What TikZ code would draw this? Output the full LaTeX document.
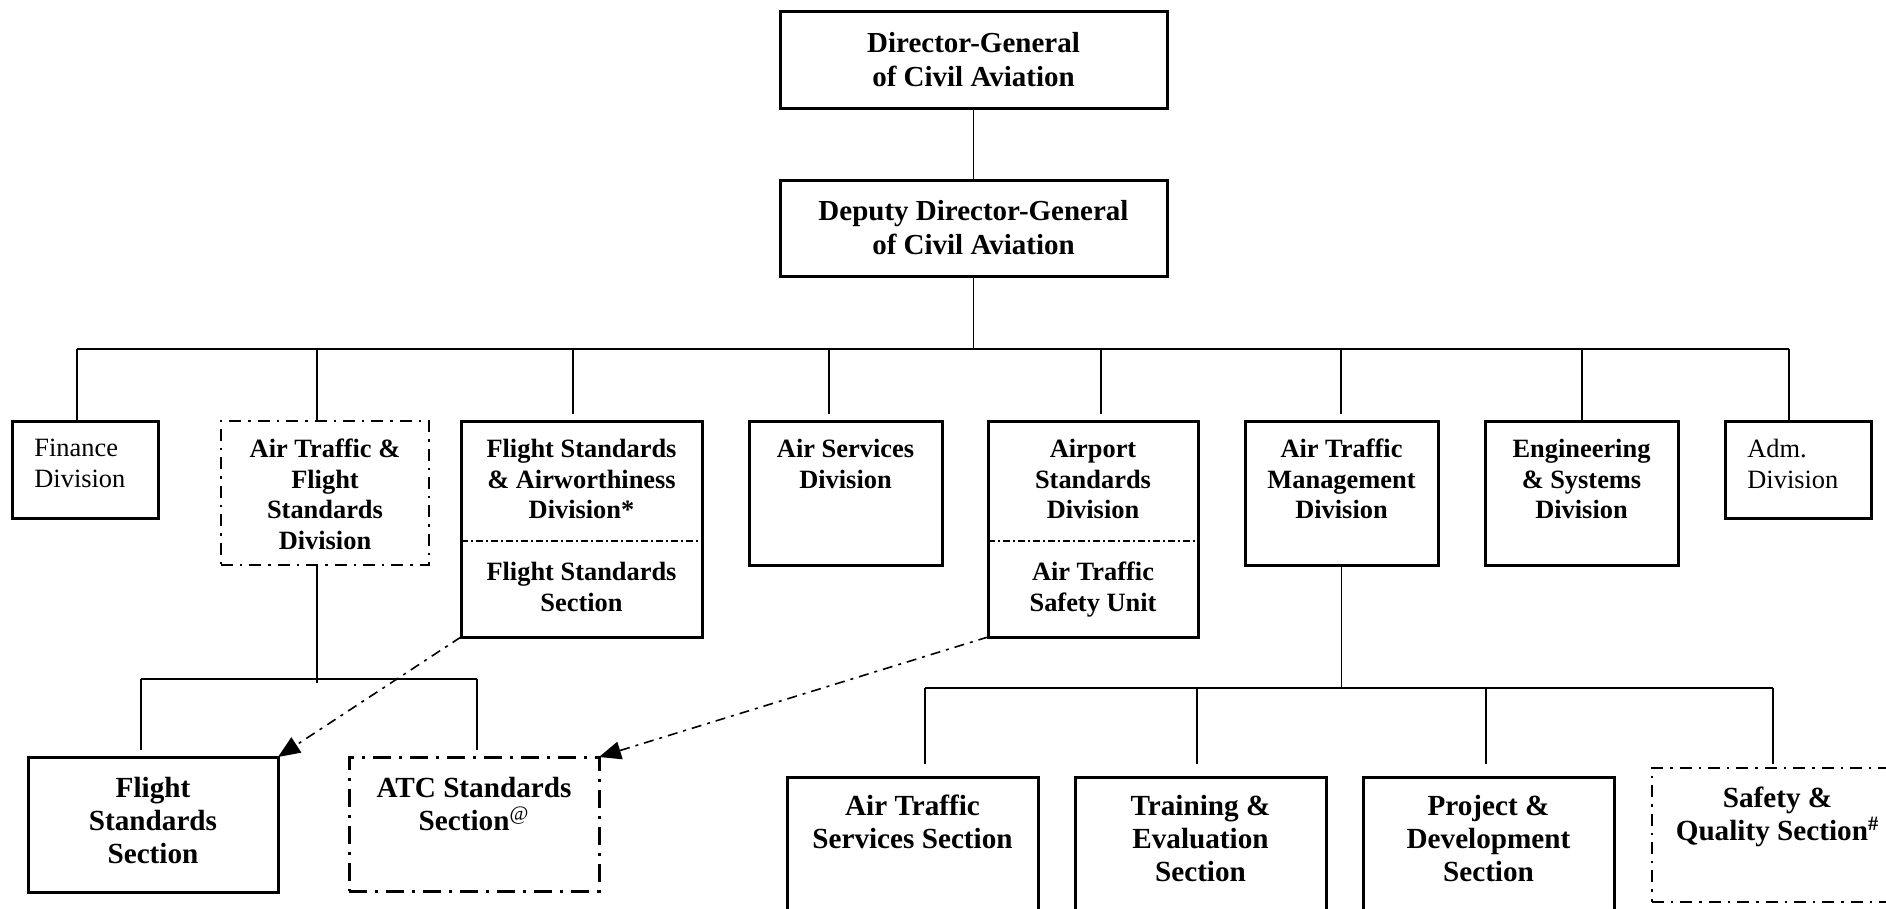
\documentclass[tikz,border=0pt]{standalone}
\usepackage{fontspec}
\setmainfont{Liberation Serif}
\usetikzlibrary{arrows.meta}

\begin{document}
\begin{tikzpicture}[x=0.5pt,y=-0.5pt]
  \tikzset{
    unit/.style = {draw, line width=1.5pt, inner sep=0pt, outer sep=0pt},
    boxwh/.style 2 args = {minimum width=#1*0.5pt, minimum height=#2*0.5pt},
    ghost/.style = {unit, line width=.9pt, dash pattern=on 6pt off 3.5pt on 1.2pt off 3.5pt},
    ghostbold/.style = {unit, dash pattern=on 9pt off 4pt on 1.5pt off 4pt},
    headtxt/.style = {font=\fontsize{14.5}{17}\selectfont\bfseries, align=center, anchor=north, inner sep=0pt},
    divtxt/.style = {font=\fontsize{13.2}{15.2}\selectfont\bfseries, align=center, anchor=north, inner sep=0pt},
    plaintxt/.style = {font=\fontsize{13.2}{15.4}\selectfont, align=left, anchor=north west, inner sep=0pt},
    sectxt/.style = {font=\fontsize{14.6}{16.5}\selectfont\bfseries, align=center, anchor=north, inner sep=0pt},
    divline/.style = {line width=.9pt, dash pattern=on 3.5pt off 1.5pt on 1pt off 1.5pt},
    link/.style = {line width=.8pt, dash pattern=on 5pt off 3pt on 1.5pt off 3pt, -{Triangle[length=11pt,width=9pt]}},
    tree/.style = {line width=.7pt}
  }
  \useasboundingbox (0,0) rectangle (1886,909);
  \clip (0,0) rectangle (1886,909);

  % top of the chart
  \node[unit, boxwh={387}{97}] (dg) at (973.5,60.5) {};
  \node[headtxt] (dg-t) at ([yshift=-10pt]dg.north) {Director-General\\of Civil Aviation};
  \node[unit, boxwh={387}{96}] (ddg) at (973.5,229) {};
  \node[headtxt] (ddg-t) at ([yshift=-9.5pt]ddg.north) {Deputy Director-General\\of Civil Aviation};

  % divisions
  \node[unit, boxwh={146}{97}] (fin) at (85,469.5) {};
  \node[plaintxt] (fin-t) at ([xshift=11pt,yshift=-9pt]fin.north west) {Finance\\Division};
  \node[ghost, boxwh={208}{144}] (atfs) at (325,493) {};
  \node[divtxt] (atfs-t) at ([yshift=-9pt]atfs.north) {Air Traffic \&\\Flight\\Standards\\Division};
  \node[unit, boxwh={241}{216}] (fsad) at (581.5,529) {};
  \node[divtxt] (fsad-t) at ([yshift=-9pt]fsad.north) {Flight Standards\\\& Airworthiness\\Division*};
  \node[divtxt] (fsad-s) at ([yshift=-70.5pt]fsad.north) {Flight Standards\\Section};
  \draw[divline] ([yshift=-60pt]fsad.north west) -- ([yshift=-60pt]fsad.north east);
  \node[unit, boxwh={193}{144}] (as) at (845.5,493) {};
  \node[divtxt] (as-t) at ([yshift=-9pt]as.north) {Air Services\\Division};
  \node[unit, boxwh={210}{216}] (asd) at (1093,529) {};
  \node[divtxt] (asd-t) at ([yshift=-9pt]asd.north) {Airport\\Standards\\Division};
  \node[divtxt] (asd-s) at ([yshift=-70.5pt]asd.north) {Air Traffic\\Safety Unit};
  \draw[divline] ([yshift=-60pt]asd.north west) -- ([yshift=-60pt]asd.north east);
  \node[unit, boxwh={193}{144}] (atm) at (1341.5,493) {};
  \node[divtxt] (atm-t) at ([yshift=-9pt]atm.north) {Air Traffic\\Management\\Division};
  \node[unit, boxwh={193}{144}] (es) at (1581.5,493) {};
  \node[divtxt] (es-t) at ([yshift=-9pt]es.north) {Engineering\\\& Systems\\Division};
  \node[unit, boxwh={146}{97}] (adm) at (1798,469.5) {};
  \node[plaintxt] (adm-t) at ([xshift=11pt,yshift=-9pt]adm.north west) {Adm.\\Division};

  % sections
  \node[unit, boxwh={250}{135}] (fss) at (153,824.5) {};
  \node[sectxt] (fss-t) at ([yshift=-10pt]fss.north) {Flight\\Standards\\Section};
  \node[ghostbold, boxwh={250}{134}] (atc) at (474,824) {};
  \node[sectxt] (atc-t) at ([yshift=-10pt]atc.north) {ATC Standards\\Section\textsuperscript{\mdseries @}};
  \node[unit, boxwh={251}{200}] (ats) at (912.5,877) {};
  \node[sectxt] (ats-t) at ([yshift=-9pt]ats.north) {Air Traffic\\Services Section};
  \node[unit, boxwh={251}{200}] (te) at (1200.5,877) {};
  \node[sectxt] (te-t) at ([yshift=-9pt]te.north) {Training \&\\Evaluation\\Section};
  \node[unit, boxwh={251}{200}] (pd) at (1488.5,877) {};
  \node[sectxt] (pd-t) at ([yshift=-9pt]pd.north) {Project \&\\Development\\Section};
  \node[ghost, boxwh={251}{134}] (sq) at (1777.5,835) {};
  \node[sectxt] (sq-t) at ([yshift=-9.5pt]sq.north) {Safety \&\\Quality Section\textsuperscript{\#}};

  % reporting lines
  \draw[tree] (dg.south) -- (ddg.north);
  \coordinate (busL) at (77,349);
  \coordinate (busR) at (1789,349);
  \draw[tree] (ddg.south) -- (ddg.south |- busL);
  \draw[tree] (busL) -- (busR);
  \foreach \n/\x/\g in {fin/77/0, atfs/317/0, fsad/573/3.5, as/829/3.5, asd/1101/3.5, atm/1341/3.5, es/1582/0, adm/1789/0}
    \draw[tree, shorten >=\g pt] (\x,0 |- busL) -- (\x,0 |- \n.north);

  \coordinate (sub1L) at (141,679);
  \coordinate (sub1R) at (477,679);
  \draw[tree] (317,0 |- atfs.south) -- (317,683);
  \draw[tree] (sub1L) -- (sub1R);
  \draw[tree, shorten >=3.5pt] (sub1L) -- (sub1L |- fss.north);
  \draw[tree, shorten >=3.5pt] (sub1R) -- (sub1R |- atc.north);

  \coordinate (sub2L) at (925,688);
  \coordinate (sub2R) at (1773,688);
  \draw[tree] (atm.south) -- (atm.south |- sub2L);
  \draw[tree] (sub2L) -- (sub2R);
  \foreach \n/\x/\g in {ats/925/6.5, te/1197/6.5, pd/1486/6.5, sq/1773/2}
    \draw[tree, shorten >=\g pt] (\x,0 |- sub2L) -- (\x,0 |- \n.north);

  % dotted links
  \draw[link] (fsad.south west) -- (fss.north east);
  \draw[link] (asd.south west) -- (atc.north east);
\end{tikzpicture}
\end{document}
